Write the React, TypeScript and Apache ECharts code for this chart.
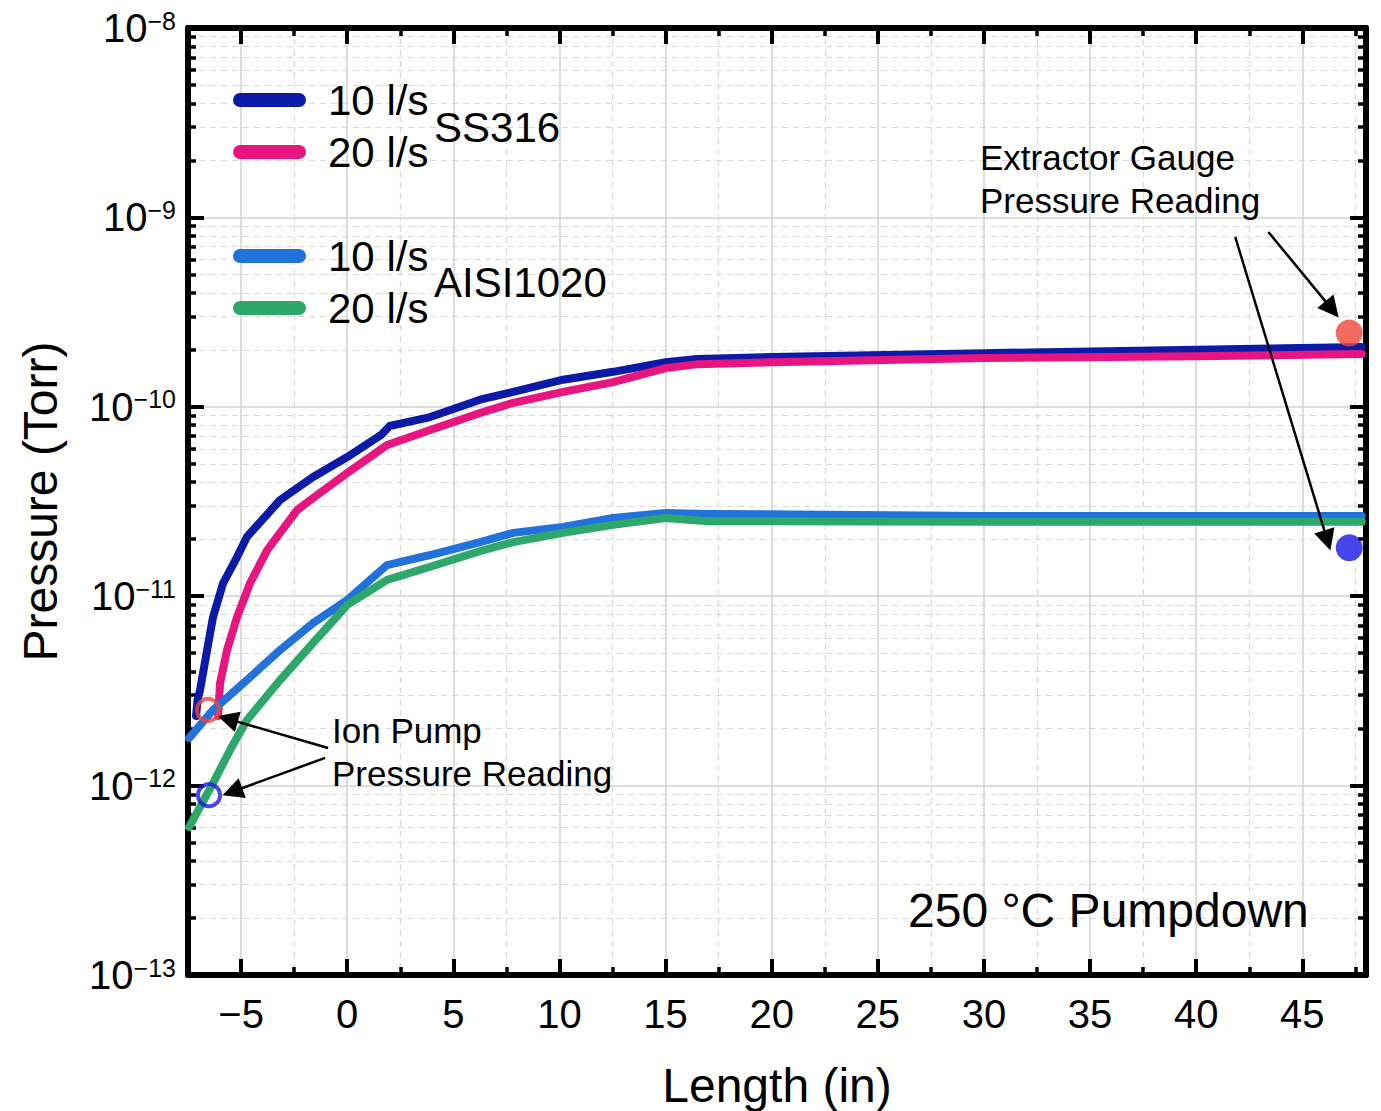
import React, { useEffect, useRef } from 'react';
import * as echarts from 'echarts';

// ---------- data ----------
const SS316_10_X = [-7.12, -7.05, -6.93, -6.6, -6.32, -5.85, -5.19, -4.72, -3.16, -1.61, 0, 1.6, 2.0, 3.91, 6.26, 7.82, 10.17, 12.53, 15, 16.5, 20, 30, 40, 47.8];
const SS316_10_P = [2.33e-12, 2.83e-12, 3.2e-12, 5.2e-12, 7.76e-12, 1.17e-11, 1.61e-11, 2.06e-11, 3.22e-11, 4.26e-11, 5.43e-11, 7.1e-11, 7.92e-11, 8.83e-11, 1.09e-10, 1.2e-10, 1.39e-10, 1.53e-10, 1.72e-10, 1.79e-10, 1.83e-10, 1.92e-10, 2.0e-10, 2.07e-10];

const SS316_20_X = [-6.08, -5.99, -5.66, -5.19, -4.58, -3.77, -2.36, -1.28, 0, 1.88, 3.91, 6.26, 7.82, 10.17, 12.53, 15, 16.5, 20, 30, 40, 47.8];
const SS316_20_P = [2.33e-12, 3.48e-12, 5.2e-12, 7.76e-12, 1.17e-11, 1.75e-11, 2.85e-11, 3.51e-11, 4.47e-11, 6.28e-11, 7.55e-11, 9.27e-11, 1.05e-10, 1.2e-10, 1.35e-10, 1.6e-10, 1.68e-10, 1.72e-10, 1.81e-10, 1.85e-10, 1.9e-10];

const AISI_10_X = [-7.45, -6.32, -4.72, -3.16, -1.61, 0, 1.88, 3.91, 6.26, 7.82, 10.17, 12.53, 15, 17, 30, 47.8];
const AISI_10_P = [1.78e-12, 2.51e-12, 3.61e-12, 5.2e-12, 7.21e-12, 9.55e-12, 1.46e-11, 1.65e-11, 1.93e-11, 2.16e-11, 2.32e-11, 2.59e-11, 2.75e-11, 2.72e-11, 2.65e-11, 2.65e-11];

const AISI_20_X = [-7.45, -6.32, -5.52, -4.72, -3.16, -1.61, 0, 1.88, 3.91, 6.26, 7.82, 10.17, 12.53, 15, 17, 30, 47.8];
const AISI_20_P = [6.04e-13, 1.03e-12, 1.54e-12, 2.22e-12, 3.61e-12, 5.66e-12, 8.99e-12, 1.22e-11, 1.43e-11, 1.73e-11, 1.93e-11, 2.16e-11, 2.38e-11, 2.59e-11, 2.49e-11, 2.47e-11, 2.47e-11];

// Ion pump readings (open circles): SS316, AISI1020
const ION_PUMP_X = [-6.56, -6.51];
const ION_PUMP_P = [2.51e-12, 8.9e-13];
// Extractor gauge readings (filled circles): SS316, AISI1020
const EXTRACTOR_X = [47.21, 47.21];
const EXTRACTOR_P = [2.45e-10, 1.8e-11];

// annotation arrows: [xFrom, pFrom, xTo, pTo]
const ARROWS = [
  [-0.9, 1.58e-12, -5.63, 2.25e-12],
  [-1.04, 1.4e-12, -5.41, 9.29e-13],
  [43.4, 8.38e-10, 46.4, 3.27e-10],
  [41.84, 7.88e-10, 46.18, 1.97e-11],
];

// ticks
const X_MAJOR = [-5, 0, 5, 10, 15, 20, 25, 30, 35, 40, 45];
const X_MINOR = [-2.5, 2.5, 7.5, 12.5, 17.5, 22.5, 27.5, 32.5, 37.5, 42.5, 47.5];
const Y_DECADES = [-13, -12, -11, -10, -9, -8];
const Y_MINOR_MULT = [2, 3, 4, 5, 6, 7, 8, 9];

const COLORS = {
  ss10: '#0c1aa8',
  ss20: '#e8147f',
  ai10: '#2272dc',
  ai20: '#2ea86a',
  red: '#f0453a',
  blue: '#1818e6',
};

const FONT = '"Liberation Sans", Arial, Helvetica, sans-serif';

const zip = (xs: number[], ys: number[]) => xs.map((x, i) => [x, ys[i]]);

const Y_MAJOR = Y_DECADES.map((e) => Math.pow(10, e));
const Y_MINOR: number[] = [];
Y_DECADES.slice(0, -1).forEach((e) => Y_MINOR_MULT.forEach((k) => Y_MINOR.push(k * Math.pow(10, e))));

function buildOption() {
  const xBase = { type: 'value', min: -7.5, max: 48, gridIndex: 0 };
  const yBase = { type: 'log', logBase: 10, min: 1e-13, max: 1e-8, gridIndex: 0 };
  const black = '#000';
  const axisLineOn = { show: true, onZero: false, lineStyle: { color: black, width: 6 } };
  const axisLineOff = { show: false, onZero: false };
  const majorSplit = { show: true, lineStyle: { color: '#d2d2d2', width: 1.5, type: 'solid' } };
  const minorSplit = { show: true, lineStyle: { color: '#d9d9d9', width: 1.2, type: [6, 5] } };
  const majTick = (vals: number[]) => ({ show: true, inside: true, length: 16, customValues: vals, lineStyle: { color: black, width: 4 } });
  const minTick = (vals: number[]) => ({ show: true, inside: true, length: 8, customValues: vals, lineStyle: { color: black, width: 3.5 } });

  const xFmt = (v: number) => (v < 0 ? '\u2212' + Math.abs(v) : String(v));
  const yFmt = (v: number) => {
    const n = Math.round(Math.log10(v));
    return '{b|10}{s|\u2212' + Math.abs(n) + '}';
  };

  const lineSeries = (name: string, xs: number[], ys: number[], color: string) => ({
    name,
    type: 'line',
    data: zip(xs, ys),
    showSymbol: false,
    symbol: 'none',
    color,
    lineStyle: { color, width: 8, cap: 'round', join: 'round' },
    xAxisIndex: 0,
    yAxisIndex: 0,
    silent: true,
    z: 3,
  });

  const pill = 'path://M7,0 H66 A7,7 0 0 1 66,14 H7 A7,7 0 0 1 7,0 Z';
  const legendCommon = {
    orient: 'vertical',
    left: 233,
    itemWidth: 73,
    itemHeight: 14,
    itemGap: 8,
    icon: pill,
    padding: 0,
    selectedMode: false,
    formatter: (n: string) => n.replace(/^\S+\s/, ''),
    textStyle: { fontSize: 42, lineHeight: 44, color: black, fontFamily: FONT, padding: [0, 0, 0, 17] },
  };

  const txt = (text: string, x: number, y: number, size: number) => ({
    type: 'text',
    x,
    y,
    z: 10,
    silent: true,
    style: { text, fontSize: size, fontFamily: FONT, fill: black, align: 'left', verticalAlign: 'middle' },
  });

  return {
    animation: false,
    backgroundColor: '#fff',
    grid: { left: 188, top: 28, width: 1178, height: 947, containLabel: false, outerBoundsMode: 'none' },
    xAxis: [
      {
        ...xBase,
        position: 'bottom',
        axisLine: axisLineOn,
        axisTick: majTick(X_MAJOR),
        axisLabel: { show: true, customValues: X_MAJOR, formatter: xFmt, fontSize: 40, color: black, fontFamily: FONT, margin: 19 },
        splitLine: majorSplit,
        name: 'Length (in)',
        nameLocation: 'middle',
        nameGap: 86,
        nameTextStyle: { fontSize: 48, color: black, fontFamily: FONT },
      },
      { ...xBase, position: 'bottom', axisLine: axisLineOff, axisTick: minTick(X_MINOR), axisLabel: { show: false }, splitLine: minorSplit },
      { ...xBase, position: 'top', axisLine: axisLineOn, axisTick: majTick(X_MAJOR), axisLabel: { show: false }, splitLine: { show: false } },
      { ...xBase, position: 'top', axisLine: axisLineOff, axisTick: minTick(X_MINOR), axisLabel: { show: false }, splitLine: { show: false } },
    ],
    yAxis: [
      {
        ...yBase,
        position: 'left',
        axisLine: axisLineOn,
        axisTick: majTick(Y_MAJOR),
        axisLabel: {
          show: true,
          customValues: Y_MAJOR,
          formatter: yFmt,
          margin: 12,
          color: black,
          fontFamily: FONT,
          rich: {
            b: { fontSize: 40, lineHeight: 40, fontFamily: FONT, color: black, verticalAlign: 'middle' },
            s: { fontSize: 25, lineHeight: 25, fontFamily: FONT, color: black, verticalAlign: 'top' },
          },
        },
        splitLine: majorSplit,
        name: 'Pressure (Torr)',
        nameLocation: 'middle',
        nameGap: 124,
        nameTextStyle: { fontSize: 48, color: black, fontFamily: FONT },
      },
      { ...yBase, position: 'left', axisLine: axisLineOff, axisTick: minTick(Y_MINOR), axisLabel: { show: false }, splitLine: minorSplit },
      { ...yBase, position: 'right', axisLine: axisLineOn, axisTick: majTick(Y_MAJOR), axisLabel: { show: false }, splitLine: { show: false } },
      { ...yBase, position: 'right', axisLine: axisLineOff, axisTick: minTick(Y_MINOR), axisLabel: { show: false }, splitLine: { show: false } },
    ],
    legend: [
      { ...legendCommon, top: 78, data: ['SS316 10 l/s', 'SS316 20 l/s'] },
      { ...legendCommon, top: 234, data: ['AISI1020 10 l/s', 'AISI1020 20 l/s'] },
    ],
    series: [
      lineSeries('SS316 10 l/s', SS316_10_X, SS316_10_P, COLORS.ss10),
      lineSeries('SS316 20 l/s', SS316_20_X, SS316_20_P, COLORS.ss20),
      lineSeries('AISI1020 10 l/s', AISI_10_X, AISI_10_P, COLORS.ai10),
      lineSeries('AISI1020 20 l/s', AISI_20_X, AISI_20_P, COLORS.ai20),
      {
        name: 'Ion Pump',
        type: 'scatter',
        symbol: 'circle',
        symbolSize: 22,
        silent: true,
        z: 5,
        data: ION_PUMP_X.map((x, i) => ({
          value: [x, ION_PUMP_P[i]],
          itemStyle: { color: 'rgba(0,0,0,0)', borderColor: i === 0 ? COLORS.red : COLORS.blue, borderWidth: 4 },
        })),
      },
      {
        name: 'Extractor Gauge',
        type: 'scatter',
        symbol: 'circle',
        symbolSize: 27,
        silent: true,
        z: 5,
        data: EXTRACTOR_X.map((x, i) => ({
          value: [x, EXTRACTOR_P[i]],
          itemStyle: { color: i === 0 ? COLORS.red : COLORS.blue },
        })),
        markLine: {
          silent: true,
          symbol: ['none', 'triangle'],
          symbolSize: 21,
          label: { show: false },
          lineStyle: { color: black, width: 2.5, type: 'solid' },
          emphasis: { disabled: true },
          data: ARROWS.map((a) => [{ coord: [a[0], a[1]] }, { coord: [a[2], a[3]] }]),
        },
      },
    ],
    graphic: [
      txt('SS316', 434, 127, 42),
      txt('AISI1020', 434, 282, 42),
      txt('Ion Pump', 332, 730, 35),
      txt('Pressure Reading', 332, 773, 35),
      txt('Extractor Gauge', 980, 157, 35),
      txt('Pressure Reading', 980, 200, 35),
      txt('250 \u00b0C Pumpdown', 908, 910, 48),
    ],
  };
}

export default function App() {
  const ref = useRef<HTMLDivElement>(null);
  useEffect(() => {
    if (!ref.current) return;
    const chart = echarts.init(ref.current, null, { renderer: 'svg' });
    chart.setOption(buildOption() as any);
    return () => chart.dispose();
  }, []);
  return (
    <div
      ref={ref}
      style={{ position: 'absolute', left: 0, top: 0, width: 1381, height: 1111, background: '#fff' }}
    />
  );
}
